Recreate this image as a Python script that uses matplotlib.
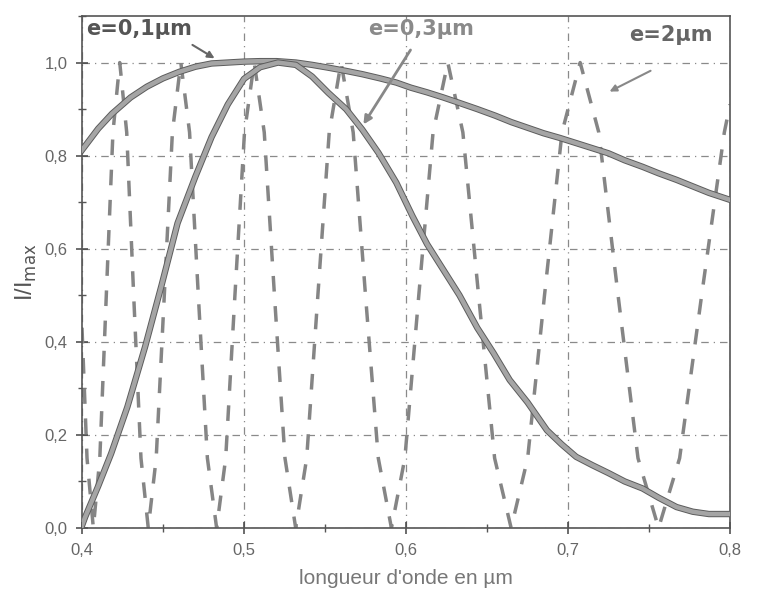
import matplotlib
matplotlib.use("Agg")
import matplotlib.pyplot as plt
import matplotlib.patheffects as pe
from matplotlib.ticker import MultipleLocator, FuncFormatter

# courbe e = 0,1 um
lam_01 = [0.400, 0.410, 0.4185, 0.430, 0.440, 0.450, 0.460, 0.470, 0.480, 0.490,
          0.500, 0.510, 0.520, 0.532, 0.542, 0.552, 0.563, 0.573, 0.584, 0.594,
          0.603, 0.613, 0.623, 0.634, 0.644, 0.655, 0.665, 0.675, 0.685, 0.695,
          0.705, 0.715, 0.725, 0.735, 0.746, 0.756, 0.767, 0.777, 0.787, 0.800]
I_01 = [0.812, 0.858, 0.890, 0.925, 0.948, 0.966, 0.980, 0.991, 0.998, 1.000,
        1.002, 1.003, 1.003, 1.000, 0.995, 0.989, 0.982, 0.975, 0.966, 0.957,
        0.946, 0.936, 0.925, 0.912, 0.900, 0.886, 0.872, 0.860, 0.848, 0.838,
        0.827, 0.816, 0.805, 0.790, 0.776, 0.762, 0.748, 0.734, 0.720, 0.705]

# courbe e = 0,3 um
lam_03 = [0.400, 0.402, 0.410, 0.418, 0.428, 0.439, 0.449, 0.459, 0.470, 0.480,
          0.490, 0.500, 0.510, 0.521, 0.532, 0.542, 0.552, 0.563, 0.573, 0.583,
          0.594, 0.604, 0.613, 0.623, 0.633, 0.644, 0.654, 0.664, 0.675, 0.687,
          0.696, 0.705, 0.715, 0.725, 0.735, 0.746, 0.756, 0.767, 0.777, 0.787, 0.800]
I_03 = [0.005, 0.024, 0.090, 0.160, 0.260, 0.390, 0.520, 0.655, 0.755, 0.840,
        0.910, 0.965, 0.990, 1.000, 0.995, 0.970, 0.935, 0.900, 0.856, 0.806,
        0.742, 0.670, 0.610, 0.555, 0.500, 0.430, 0.376, 0.318, 0.270, 0.210,
        0.180, 0.153, 0.135, 0.118, 0.100, 0.085, 0.065, 0.045, 0.035, 0.030, 0.030]

# courbe e = 2 um (franges)
lam_2 = [0.400, 0.4031, 0.4070, 0.4110, 0.4150, 0.4191, 0.4233, 0.4276, 0.4319, 0.4364,
         0.4409, 0.4458, 0.4508, 0.4558, 0.4610, 0.4664, 0.4718, 0.4774, 0.4831, 0.4887,
         0.4944, 0.5003, 0.5063, 0.5125, 0.5188, 0.5253, 0.5319, 0.5387, 0.5456, 0.5526,
         0.5599, 0.5674, 0.5750, 0.5829, 0.5910, 0.5993, 0.6079, 0.6167, 0.6258, 0.6351,
         0.6448, 0.6547, 0.6649, 0.6751, 0.6855, 0.6963, 0.7075, 0.7190, 0.7309, 0.7432,
         0.7559, 0.7689, 0.7825, 0.7965, 0.800]
I_2 = [0.43, 0.15, 0.00, 0.15, 0.50, 0.85, 1.00, 0.85, 0.50, 0.15,
       0.00, 0.15, 0.50, 0.85, 1.00, 0.85, 0.50, 0.15, 0.00, 0.15,
       0.50, 0.85, 1.00, 0.85, 0.50, 0.15, 0.00, 0.15, 0.50, 0.85,
       1.00, 0.85, 0.50, 0.15, 0.00, 0.15, 0.50, 0.85, 1.00, 0.85,
       0.50, 0.15, 0.00, 0.15, 0.50, 0.85, 1.00, 0.85, 0.50, 0.15,
       0.00, 0.15, 0.50, 0.85, 0.91]

x_ticks = [0.4, 0.5, 0.6, 0.7, 0.8]
y_ticks = [0.0, 0.2, 0.4, 0.6, 0.8, 1.0]

fig = plt.figure(figsize=(7.64, 6.07), dpi=100)
ax = fig.add_axes([82 / 764, 1 - 528 / 607, (730 - 82) / 764, (528 - 16) / 607])
ax.set_xlim(0.4, 0.8)
ax.set_ylim(0, 1.1)

# franges e = 2 um
ax.plot(lam_2, I_2, color="#858585", lw=2.5, dashes=[4.5, 4.2], zorder=2)

outline = [pe.Stroke(linewidth=4.6, foreground="#5c5c5c"), pe.Normal()]
ax.plot(lam_01, I_01, color="#a5a5a5", lw=3.2, zorder=3, path_effects=outline)
ax.plot(lam_03, I_03, color="#a5a5a5", lw=3.2, zorder=3, path_effects=outline)

# grille
ax.xaxis.set_minor_locator(MultipleLocator(0.05))
ax.yaxis.set_minor_locator(MultipleLocator(0.1))
ax.set_xticks(x_ticks)
ax.set_yticks(y_ticks)
ax.grid(True, which="major", color="#8a8a8a", lw=0.9, ls=(0, (6, 4, 1, 4)))
comma = FuncFormatter(lambda v, p: f"{v:.1f}".replace(".", ","))
ax.xaxis.set_major_formatter(comma)
ax.yaxis.set_major_formatter(comma)
ax.tick_params(which="major", direction="inout", length=9, width=1.1, color="#444",
               labelsize=12, labelcolor="#666", pad=6)
ax.tick_params(which="minor", direction="inout", length=6, width=1.0, color="#555")
for lab in ax.get_xticklabels() + ax.get_yticklabels():
    lab.set_family("Liberation Sans")
for s in ax.spines.values():
    s.set_color("#555")
    s.set_linewidth(1.2)

ax.set_xlabel("longueur d'onde en µm", fontsize=15, color="#777", labelpad=8,
              family="Liberation Sans")
ax.set_ylabel("I/I$_{\\mathrm{max}}$", fontsize=17, color="#555", labelpad=4,
              family="Liberation Sans")

# étiquettes des courbes
ax.text(0.4025, 1.094, "e=0,1µm", fontsize=15, fontweight="bold", color="#555",
        ha="left", va="top")
ax.text(0.5765, 1.094, "e=0,3µm", fontsize=15, fontweight="bold", color="#8a8a8a",
        ha="left", va="top")
ax.text(0.7375, 1.080, "e=2µm", fontsize=15, fontweight="bold", color="#666",
        ha="left", va="top")

ax.annotate("", xy=(0.4833, 1.006), xytext=(0.4667, 1.041),
            arrowprops=dict(arrowstyle="-|>", color="#666", lw=1.5, mutation_scale=10))
ax.annotate("", xy=(0.5728, 0.862), xytext=(0.6037, 1.032),
            arrowprops=dict(arrowstyle="-|>", color="#888", lw=2.0, mutation_scale=12))
ax.annotate("", xy=(0.7241, 0.935), xytext=(0.7525, 0.985),
            arrowprops=dict(arrowstyle="-|>", color="#888", lw=1.5, mutation_scale=10))

fig.savefig("out.png", dpi=100)
